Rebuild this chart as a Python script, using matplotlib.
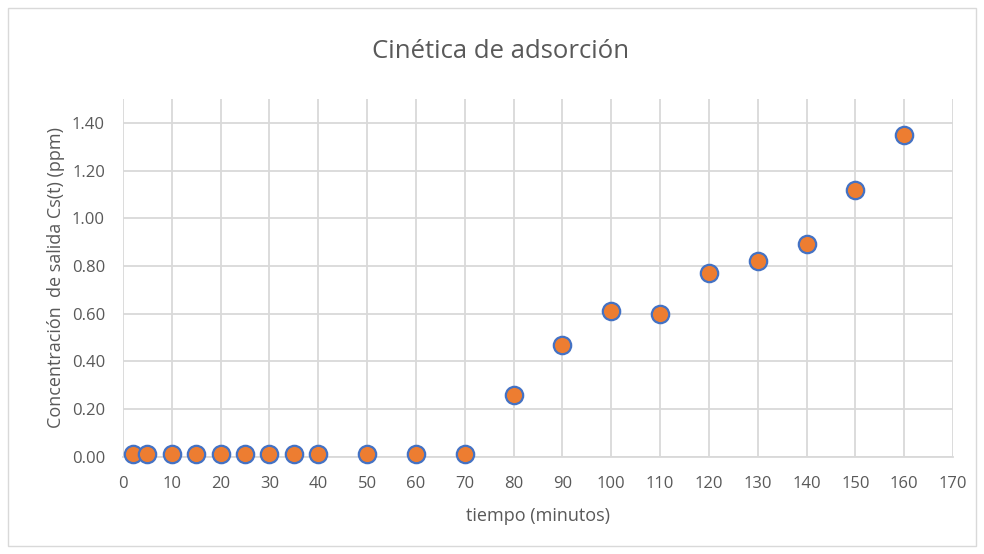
import matplotlib
matplotlib.use("Agg")
import matplotlib.pyplot as plt
from matplotlib.patches import Rectangle

tiempo = [2, 5, 10, 15, 20, 25, 30, 35, 40, 50, 60, 70, 80, 90, 100, 110, 120, 130, 140, 150, 160]
conc = [0.01, 0.01, 0.01, 0.01, 0.01, 0.01, 0.01, 0.01, 0.01, 0.01, 0.01, 0.01,
        0.26, 0.47, 0.61, 0.60, 0.77, 0.82, 0.89, 1.12, 1.35]
xticks = list(range(0, 171, 10))
yticks = [0.0, 0.2, 0.4, 0.6, 0.8, 1.0, 1.2, 1.4]

plt.rcParams['font.family'] = ['Open Sans', 'DejaVu Sans']
txt = '#595959'
grid = '#D9D9D9'

fig = plt.figure(figsize=(9.84, 5.54), dpi=100)
fig.patches.append(Rectangle((8/984, 8/554), 968/984, 538/554, transform=fig.transFigure,
                             fill=False, edgecolor=grid, linewidth=1))
ax = fig.add_axes([123/984, 1-456.7/554, (953-123)/984, (456.7-99)/554])
ax.set_xlim(0, 170)
ax.set_ylim(0, 1.5)
ax.set_xticks(xticks)
ax.set_yticks(yticks)
ax.set_yticklabels([f"{v:.2f}" for v in yticks])
ax.grid(True, color=grid, linewidth=1.3)
ax.set_axisbelow(True)
for s in ['top', 'right', 'left']:
    ax.spines[s].set_visible(False)
ax.spines['bottom'].set_color(grid)
ax.spines['bottom'].set_linewidth(1.3)
ax.tick_params(length=0, colors=txt, labelsize=12)
ax.tick_params(axis='x', pad=14)
ax.tick_params(axis='y', pad=13)
ax.plot(tiempo, conc, linestyle='none', marker='o', markersize=12.5,
        markerfacecolor='#ED7D31', markeredgecolor='#4472C4', markeredgewidth=1.6, clip_on=False, zorder=3)
ax.set_xlabel('tiempo (minutos)', color=txt, fontsize=13, labelpad=11)
ax.set_ylabel('Concentración  de salida Cs(t) (ppm)', color=txt, fontsize=13, labelpad=5)
fig.text(501/984, 1-52/554, 'Cinética de adsorción', ha='center', va='center', color=txt, fontsize=18.5)
fig.savefig('out.png', dpi=100)
